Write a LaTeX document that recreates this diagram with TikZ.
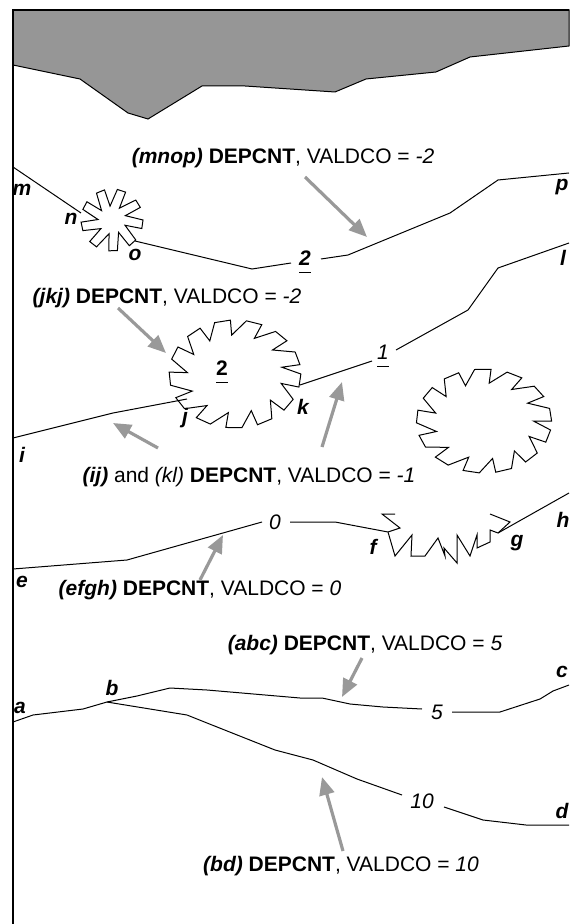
\documentclass[tikz,border=0pt]{standalone}
\usepackage{fontspec}
\setmainfont{Liberation Sans}
\usepackage{tikz}
\usetikzlibrary{arrows.meta}
\pgfdeclarelayer{edgelayer}
\pgfdeclarelayer{nodelayer}
\pgfsetlayers{edgelayer,nodelayer,main}
\definecolor{pointergrey}{RGB}{153,153,153}
\definecolor{landgrey}{RGB}{150,150,150}
\newcommand{\ulnum}[1]{\underline{#1\vphantom{g}}}
\tikzstyle{none} = []
\tikzstyle{letter} = [font=\fontsize{10.5}{12}\selectfont\bfseries\itshape]
\tikzstyle{depth} = [font=\fontsize{10.5}{12}\selectfont\itshape]
\tikzstyle{caption} = [font=\fontsize{10.5}{12}\selectfont]
\tikzstyle{contour} = [line width=0.5pt]
\tikzstyle{pointer} = [draw=pointergrey, line width=1.6pt, -{Triangle[length=9pt,width=7.5pt]}]

\begin{document}
\begin{tikzpicture}[x=0.5pt, y=-0.5pt]
	\useasboundingbox (0,0) rectangle (569,924);
	\begin{pgfonlayer}{nodelayer}
		\node [style=none] (0) at (13, 167) {};
		\node [style=none] (1) at (81, 213) {};
		\node [style=none] (2) at (135, 241) {};
		\node [style=none] (3) at (252, 269) {};
		\node [style=none] (4) at (291, 263) {};
		\node [style=none] (5) at (321, 259) {};
		\node [style=none] (6) at (348, 255) {};
		\node [style=none] (7) at (450, 213) {};
		\node [style=none] (8) at (498, 180) {};
		\node [style=none] (9) at (569, 173) {};
		\node [style=none] (10) at (13, 438) {};
		\node [style=none] (11) at (113, 413) {};
		\node [style=none] (12) at (187, 399) {};
		\node [style=none] (13) at (300, 385) {};
		\node [style=none] (14) at (372, 361) {};
		\node [style=none] (15) at (396, 350) {};
		\node [style=none] (16) at (468, 310) {};
		\node [style=none] (17) at (498, 268) {};
		\node [style=none] (18) at (569, 243) {};
		\node [style=none] (19) at (13, 569) {};
		\node [style=none] (20) at (127, 560) {};
		\node [style=none] (21) at (262, 522) {};
		\node [style=none] (22) at (290, 522) {};
		\node [style=none] (23) at (335, 522) {};
		\node [style=none] (24) at (388, 532) {};
		\node [style=none] (25) at (498, 533) {};
		\node [style=none] (26) at (569, 493) {};
		\node [style=none] (27) at (13, 722) {};
		\node [style=none] (28) at (33, 715) {};
		\node [style=none] (29) at (83, 709) {};
		\node [style=none] (30) at (107, 702) {};
		\node [style=none] (31) at (137, 696) {};
		\node [style=none] (32) at (170, 688) {};
		\node [style=none] (33) at (207, 690) {};
		\node [style=none] (34) at (300, 698) {};
		\node [style=none] (35) at (322, 698) {};
		\node [style=none] (36) at (350, 704) {};
		\node [style=none] (37) at (383, 707) {};
		\node [style=none] (38) at (422, 709) {};
		\node [style=none] (39) at (452, 712) {};
		\node [style=none] (40) at (500, 712) {};
		\node [style=none] (41) at (540, 699) {};
		\node [style=none] (42) at (553, 691) {};
		\node [style=none] (43) at (569, 685) {};
		\node [style=none] (44) at (113, 703) {};
		\node [style=none] (45) at (187, 715) {};
		\node [style=none] (46) at (207, 723) {};
		\node [style=none] (47) at (275, 750) {};
		\node [style=none] (48) at (313, 760) {};
		\node [style=none] (49) at (357, 779) {};
		\node [style=none] (50) at (402, 795) {};
		\node [style=none] (51) at (444, 807) {};
		\node [style=none] (52) at (483, 820) {};
		\node [style=none] (53) at (526, 825) {};
		\node [style=none] (54) at (569, 825) {};
		\node [style=letter] (55) at (22, 190) {m};
		\node [style=letter] (56) at (71, 219) {n};
		\node [style=letter] (57) at (135, 255) {o};
		\node [style=letter] (58) at (562, 187) {p};
		\node [style=letter] (59) at (22, 455) {i};
		\node [style=letter] (60) at (185, 418) {j};
		\node [style=letter] (61) at (303, 407) {k};
		\node [style=letter] (62) at (563, 258) {l};
		\node [style=letter] (63) at (22, 582) {e};
		\node [style=letter] (64) at (373, 547) {f};
		\node [style=letter] (65) at (517, 543) {g};
		\node [style=letter] (66) at (563, 520) {h};
		\node [style=letter] (67) at (20, 708) {a};
		\node [style=letter] (68) at (112, 688) {b};
		\node [style=letter] (69) at (562, 672) {c};
		\node [style=letter] (70) at (562, 811) {d};
		\node [style=letter] (71) at (305, 262) {\ulnum{2}};
		\node [style=caption, font=\fontsize{10.5}{12}\selectfont\bfseries] (72) at (222, 372) {\ulnum{2}};
		\node [style=depth] (73) at (383, 356) {\ulnum{1}};
		\node [style=depth] (74) at (275, 522) {0};
		\node [style=depth] (75) at (437, 712) {5};
		\node [style=depth] (76) at (422, 801) {10};
		\node [style=caption] (77) at (283, 158) {\textbf{\textit{(mnop)}} \textbf{DEPCNT}, VALDCO = \textit{-2}};
		\node [style=caption] (78) at (167, 298) {\textbf{\textit{(jkj)}} \textbf{DEPCNT}, VALDCO = \textit{-2}};
		\node [style=caption] (79) at (249, 477) {\textbf{\textit{(ij)}} and \textit{(kl)} \textbf{DEPCNT}, VALDCO = \textit{-1}};
		\node [style=caption] (80) at (200, 590) {\textbf{\textit{(efgh)}} \textbf{DEPCNT}, VALDCO = \textit{0}};
		\node [style=caption] (81) at (365, 645) {\textbf{\textit{(abc)}} \textbf{DEPCNT}, VALDCO = \textit{5}};
		\node [style=caption] (82) at (341, 866) {\textbf{\textit{(bd)}} \textbf{DEPCNT}, VALDCO = \textit{10}};
		\node [style=none] (83) at (305, 177) {};
		\node [style=none] (84) at (367, 237) {};
		\node [style=none] (85) at (118, 308) {};
		\node [style=none] (86) at (166, 353) {};
		\node [style=none] (87) at (158, 448) {};
		\node [style=none] (88) at (113, 423) {};
		\node [style=none] (89) at (322, 447) {};
		\node [style=none] (90) at (342, 382) {};
		\node [style=none] (91) at (200, 580) {};
		\node [style=none] (92) at (223, 535) {};
		\node [style=none] (93) at (362, 658) {};
		\node [style=none] (94) at (342, 697) {};
		\node [style=none] (95) at (343, 851) {};
		\node [style=none] (96) at (322, 777) {};
	\end{pgfonlayer}
	\begin{pgfonlayer}{edgelayer}
		% land and frame
		\filldraw [fill=landgrey, contour] (13, 10) -- (569, 10) -- (569, 46) -- (470, 57) -- (436, 72) -- (366, 79) -- (335, 92) -- (245, 86) -- (202, 86) -- (148, 119) -- (128, 113) -- (80, 79) -- (13, 65) -- cycle;
		\draw [line width=0.7pt] (569, 10) -- (13, 10) -- (13, 924);
		% mnop
		\draw [style=contour] (0.center) to (1.center);
		\draw [style=contour] (2.center) to (3.center) to (4.center);
		\draw [style=contour] (5.center) to (6.center) to (7.center) to (8.center) to (9.center);
		\draw [style=contour, shift={(112, 220)}] (0:31) -- (16:31) -- (22:14) -- (40:31) -- (56:31) -- (62:14) -- (80:31) -- (96:31) -- (102:14) -- (120:31) -- (136:31) -- (142:14) -- (160:31) -- (176:31) -- (182:14) -- (200:31) -- (216:31) -- (222:14) -- (240:31) -- (256:31) -- (262:14) -- (280:31) -- (296:31) -- (302:14) -- (320:31) -- (336:31) -- (342:14) -- cycle;
		% ij and kl
		\draw [style=contour] (10.center) to (11.center) to (12.center);
		\draw [style=contour] (13.center) to (14.center);
		\draw [style=contour] (15.center) to (16.center) to (17.center) to (18.center);
		\draw [style=contour, shift={(235, 374)}, xscale=1.22] (0:54) -- (14:54) -- (14:39) -- (28:54) -- (42:54) -- (42:39) -- (56:54) -- (70:54) -- (70:39) -- (84:54) -- (98:54) -- (98:39) -- (112:54) -- (126:54) -- (126:39) -- (140:54) -- (154:54) -- (154:39) -- (168:54) -- (182:54) -- (182:39) -- (196:54) -- (210:54) -- (210:39) -- (224:54) -- (238:54) -- (238:39) -- (252:54) -- (266:54) -- (266:39) -- (280:54) -- (294:54) -- (294:39) -- (308:54) -- (322:54) -- (322:39) -- (336:54) -- (350:54) -- (350:39) -- cycle;
		\draw [style=contour, shift={(484, 421)}, xscale=1.3] (10:52) -- (24:52) -- (24:38) -- (38:52) -- (52:52) -- (52:38) -- (66:52) -- (80:52) -- (80:38) -- (94:52) -- (108:52) -- (108:38) -- (122:52) -- (136:52) -- (136:38) -- (150:52) -- (164:52) -- (164:38) -- (178:52) -- (192:52) -- (192:38) -- (206:52) -- (220:52) -- (220:38) -- (234:52) -- (248:52) -- (248:38) -- (262:52) -- (276:52) -- (276:38) -- (290:52) -- (304:52) -- (304:38) -- (318:52) -- (332:52) -- (332:38) -- (346:52) -- (360:52) -- (360:38) -- cycle;
		% efgh
		\draw [style=contour] (19.center) to (20.center) to (21.center);
		\draw [style=contour] (22.center) to (23.center) to (24.center);
		\draw [style=contour] (24.center) -- (400, 528) -- (382, 514) -- (395, 514);
		\draw [style=contour] (24.center) -- (395, 556) -- (412, 535) -- (411, 556) -- (425, 556) -- (438, 538) -- (445, 556) -- (444, 548) -- (457, 563) -- (457, 535) -- (470, 556) -- (477, 535) -- (477, 548) -- (490, 542) -- (490, 530) -- (25.center);
		\draw [style=contour] (25.center) -- (510, 522) -- (490, 514);
		\draw [style=contour] (25.center) to (26.center);
		% abc and bd
		\draw [style=contour] (27.center) to (28.center) to (29.center) to (30.center) to (31.center) to (32.center) to (33.center) to (34.center) to (35.center) to (36.center) to (37.center) to (38.center);
		\draw [style=contour] (39.center) to (40.center) to (41.center) to (42.center) to (43.center);
		\draw [style=contour] (30.center) to (44.center) to (45.center) to (46.center) to (47.center) to (48.center) to (49.center) to (50.center);
		\draw [style=contour] (51.center) to (52.center) to (53.center) to (54.center);
	\end{pgfonlayer}
	\draw [style=pointer] (83.center) to (84.center);
	\draw [style=pointer] (85.center) to (86.center);
	\draw [style=pointer] (87.center) to (88.center);
	\draw [style=pointer] (89.center) to (90.center);
	\draw [style=pointer] (91.center) to (92.center);
	\draw [style=pointer] (93.center) to (94.center);
	\draw [style=pointer] (95.center) to (96.center);
\end{tikzpicture}
\end{document}
